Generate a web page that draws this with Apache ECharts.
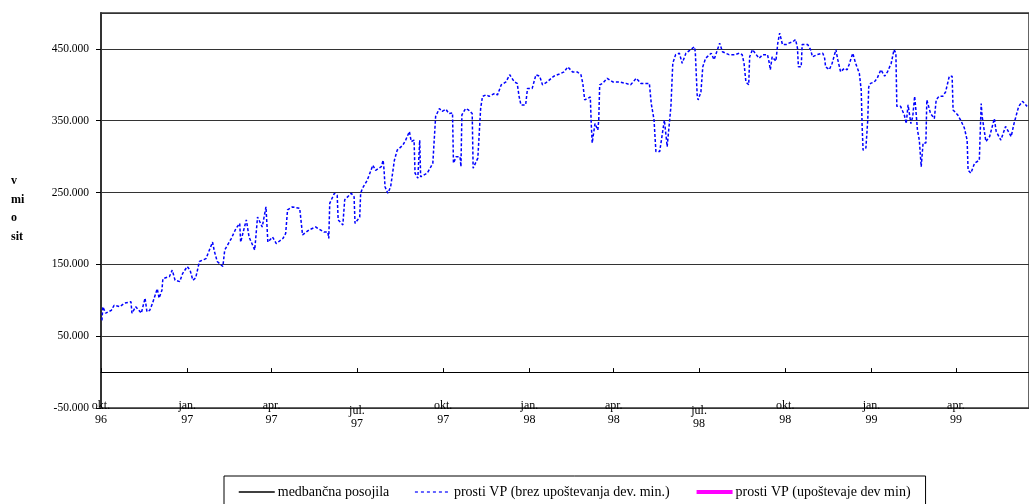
<!DOCTYPE html>
<html>
<head>
<meta charset="utf-8">
<script src="https://cdn.jsdelivr.net/npm/echarts@6/dist/echarts.min.js"></script>
<style>
html,body{margin:0;padding:0;background:#fff;}
#chart{width:1029px;height:504px;}
</style>
</head>
<body>
<div id="chart"></div>
<script>
// x = days since 1 Oct 1996
const days = [1,2,5,11,14,20,25,32,33,37,43,45,47,49,52,55,60,62,65,66,73,76,79,84,87,92,95,98,101,105,112,119,121,124,130,132,139,144,148,149,155,158,164,167,172,176,178,183,187,194,197,199,204,212,215,222,229,238,242,243,244,249,252,253,258,260,267,270,271,276,277,279,284,290,293,299,301,302,303,306,309,313,316,322,325,329,331,334,335,338,340,341,343,348,352,354,357,361,364,368,371,375,376,379,383,384,385,389,392,396,397,402,404,405,407,411,414,420,423,427,432,436,441,444,446,448,453,455,460,464,468,471,476,483,489,494,498,503,508,512,514,516,519,522,523,524,527,530,531,532,535,540,546,553,560,565,571,576,585,587,590,591,592,596,599,601,603,604,606,608,610,613,617,620,624,629,633,634,636,637,640,642,645,651,654,660,663,670,676,681,684,686,688,691,692,695,699,702,706,711,713,714,716,720,722,724,727,731,734,738,741,743,744,747,748,754,757,759,764,770,772,773,777,780,784,786,789,793,796,798,802,805,809,811,812,813,816,818,819,821,825,828,832,836,839,843,846,848,849,853,855,857,859,861,864,866,868,869,871,873,875,877,880,881,883,885,889,891,894,898,901,905,908,909,914,917,921,924,925,928,932,937,939,940,944,948,953,955,960,965,971,974,979,983,988];
const freeVP = [72000,91000,82000,86000,93000,91000,96000,98000,82000,91000,82000,84000,103000,84000,86000,96000,116000,103000,114000,130000,133000,142000,128000,126000,137000,147000,142000,128000,131000,154000,158000,181000,168000,154000,147000,170000,186000,200000,207000,181000,212000,188000,170000,216000,202000,230000,181000,188000,179000,186000,193000,226000,230000,228000,191000,198000,202000,195000,195000,186000,235000,249000,246000,212000,205000,240000,249000,244000,207000,216000,249000,256000,267000,288000,281000,286000,295000,281000,258000,249000,258000,295000,309000,316000,323000,335000,321000,323000,277000,270000,323000,272000,272000,277000,286000,291000,356000,367000,363000,366000,360000,361000,291000,300000,300000,286000,358000,367000,365000,360000,284000,298000,300000,367000,384000,386000,384000,388000,386000,400000,404000,414000,404000,402000,384000,372000,372000,395000,395000,414000,412000,400000,404000,412000,415000,418000,425000,418000,418000,414000,402000,379000,381000,383000,346000,319000,346000,337000,351000,400000,402000,409000,404000,404000,402000,400000,409000,402000,402000,374000,351000,328000,307000,307000,333000,351000,351000,314000,314000,370000,430000,442000,444000,430000,444000,449000,453000,446000,386000,379000,390000,425000,437000,444000,435000,458000,446000,442000,442000,444000,442000,430000,404000,400000,439000,449000,442000,437000,442000,442000,430000,421000,439000,433000,458000,472000,456000,456000,458000,460000,463000,451000,425000,425000,456000,456000,449000,439000,442000,444000,437000,425000,421000,430000,449000,435000,418000,423000,421000,428000,444000,430000,416000,393000,342000,309000,312000,351000,397000,402000,404000,409000,421000,412000,418000,430000,449000,444000,370000,370000,372000,358000,346000,372000,346000,356000,384000,370000,337000,323000,286000,319000,319000,379000,381000,360000,353000,379000,384000,384000,390000,412000,412000,365000,358000,351000,340000,323000,281000,277000,291000,295000,374000,356000,321000,328000,353000,335000,323000,342000,328000,346000,370000,377000,370000];
const loans = [];
const freeVPmin = [];
const tickDays = [0,92,182,273,365,457,547,638,730,822,912];
const tickLabels = ['okt.\n96','jan.\n97','apr.\n97','jul.\n97','okt.\n97','jan.\n98','apr.\n98','jul.\n98','okt.\n98','jan.\n99','apr.\n99'];
const seriesNames = ['medbančna posojila','prosti VP (brez upoštevanja dev. min.)','prosti VP (upoštevaje dev min)'];
const FONT = 'Liberation Serif';

function fmtY(v){
  const s = Math.abs(v).toString().replace(/\B(?=(\d{3})+(?!\d))/g,'.');
  return (v<0?'-':'') + s;
}
function fmtX(v){
  const i = tickDays.indexOf(Math.round(v));
  if (i < 0) return '';
  const parts = tickLabels[i].split('\n');
  // "jul." labels sit a little lower in the original
  if (parts[0].charAt(0) === 'j' && parts[0].charAt(1) === 'u') return '{a|' + parts[0] + '}\n{b|' + parts[1] + '}';
  return tickLabels[i];
}
const pairs = a => a.map((v,i)=>[days[i],v]);

const chart = echarts.init(document.getElementById('chart'));
chart.setOption({
  animation:false,
  backgroundColor:'#fff',
  grid:{left:101,right:0,top:13,bottom:96,show:true,borderColor:'#333',borderWidth:1.5,backgroundColor:'transparent'},
  graphic:[{type:'text',left:11,top:172,style:{text:'v\nmi\no\nsit',font:'bold 12px "Liberation Serif"',lineHeight:18.5,fill:'#000'}}],
  legend:{
    left:224, top:476, padding:[9,15,9,14],
    borderColor:'#000', borderWidth:1,
    itemWidth:36, itemHeight:10, itemGap:25,
    itemStyle:{opacity:0},
    textStyle:{fontFamily:FONT,fontSize:14,color:'#000',padding:[0,0,0,-2]},
    data:[
      {name:seriesNames[0],lineStyle:{width:1.5,color:'#000'}},
      {name:seriesNames[1],lineStyle:{width:1.2,color:'#0000ff',type:[3,3]}},
      {name:seriesNames[2],lineStyle:{width:4,color:'#ff00ff'}}
    ]
  },
  xAxis:[{
    type:'value', min:0, max:990, position:'bottom',
    axisLine:{show:false,onZero:false}, axisTick:{show:false}, splitLine:{show:false},
    axisLabel:{customValues:tickDays, margin:-9, fontFamily:FONT, fontSize:12, color:'#000', lineHeight:14,
      formatter:fmtX,
      rich:{a:{fontFamily:FONT,fontSize:12,color:'#000',lineHeight:23},b:{fontFamily:FONT,fontSize:12,color:'#000',lineHeight:3}}}
  },{
    type:'value', min:0, max:990, position:'bottom',
    axisLine:{show:true,onZero:true,lineStyle:{color:'#000',width:1}},
    axisTick:{show:true,inside:true,length:4,customValues:tickDays,lineStyle:{color:'#000'}},
    axisLabel:{show:false}, splitLine:{show:false}
  }],
  yAxis:{
    type:'value', min:-50000, max:500000, interval:100000,
    axisLine:{show:true,lineStyle:{color:'#333',width:2}},
    axisTick:{show:true,length:5,lineStyle:{color:'#000'}},
    axisLabel:{margin:12,fontFamily:FONT,fontSize:11.5,color:'#000',formatter:fmtY,showMaxLabel:false},
    splitLine:{show:true,lineStyle:{color:'#333',width:1}}
  },
  series:[
    {name:seriesNames[0],type:'line',data:pairs(loans),symbol:'none',color:'#000',lineStyle:{color:'#000',width:1.2}},
    {name:seriesNames[1],type:'line',data:pairs(freeVP),symbol:'none',color:'#0000ff',lineStyle:{color:'#0000ff',width:1.5,type:[3,2]}},
    {name:seriesNames[2],type:'line',data:pairs(freeVPmin),symbol:'none',color:'#ff00ff',lineStyle:{color:'#ff00ff',width:4}}
  ]
});
</script>
</body>
</html>
